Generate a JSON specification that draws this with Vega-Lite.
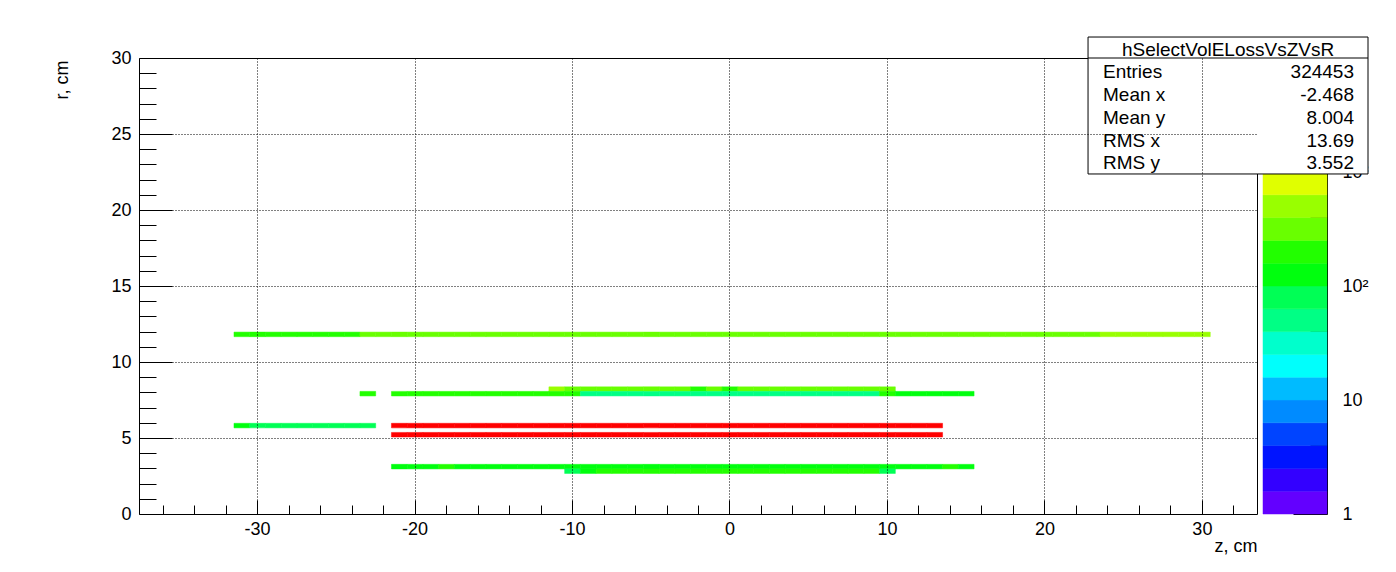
{
"$schema": "https://vega.github.io/schema/vega-lite/v6.json",
"width": 1118, "height": 456,
"autosize": {"type": "none"},
"padding": {"left": 139, "top": 58, "right": 139, "bottom": 58},
"background": "white",
"config": {
  "font": "Liberation Sans",
  "view": {"stroke": "black", "strokeWidth": 1},
  "axis": {"labelFont": "Liberation Sans", "titleFont": "Liberation Sans", "labelColor": "black", "titleColor": "black", "titleFontWeight": "normal", "tickColor": "black", "domainColor": "black", "labelFontSize": 18, "titleFontSize": 18, "tickWidth": 1},
  "text": {"font": "Liberation Sans", "color": "black"}
},
"datasets": {
  "bins": [
    {"z":-31,"r":11.85,"n":205},{"z":-30,"r":11.85,"n":196},{"z":-29,"r":11.85,"n":212},{"z":-28,"r":11.85,"n":189},{"z":-27,"r":11.85,"n":201},{"z":-26,"r":11.85,"n":218},{"z":-25,"r":11.85,"n":193},{"z":-24,"r":11.85,"n":207},
    {"z":-23,"r":11.85,"n":312},{"z":-22,"r":11.85,"n":335},{"z":-21,"r":11.85,"n":348},{"z":-20,"r":11.85,"n":329},{"z":-19,"r":11.85,"n":341},{"z":-18,"r":11.85,"n":356},{"z":-17,"r":11.85,"n":338},{"z":-16,"r":11.85,"n":322},{"z":-15,"r":11.85,"n":347},{"z":-14,"r":11.85,"n":359},{"z":-13,"r":11.85,"n":333},{"z":-12,"r":11.85,"n":318},{"z":-11,"r":11.85,"n":344},{"z":-10,"r":11.85,"n":352},{"z":-9,"r":11.85,"n":327},{"z":-8,"r":11.85,"n":339},{"z":-7,"r":11.85,"n":361},{"z":-6,"r":11.85,"n":345},{"z":-5,"r":11.85,"n":330},{"z":-4,"r":11.85,"n":318},{"z":-3,"r":11.85,"n":342},{"z":-2,"r":11.85,"n":355},{"z":-1,"r":11.85,"n":336},{"z":0,"r":11.85,"n":349},{"z":1,"r":11.85,"n":327},{"z":2,"r":11.85,"n":340},{"z":3,"r":11.85,"n":358},{"z":4,"r":11.85,"n":332},{"z":5,"r":11.85,"n":321},{"z":6,"r":11.85,"n":346},{"z":7,"r":11.85,"n":353},{"z":8,"r":11.85,"n":338},{"z":9,"r":11.85,"n":326},{"z":10,"r":11.85,"n":344},{"z":11,"r":11.85,"n":351},{"z":12,"r":11.85,"n":329},{"z":13,"r":11.85,"n":317},{"z":14,"r":11.85,"n":340},{"z":15,"r":11.85,"n":334},{"z":16,"r":11.85,"n":322},{"z":17,"r":11.85,"n":310},{"z":18,"r":11.85,"n":326},{"z":19,"r":11.85,"n":305},{"z":20,"r":11.85,"n":298},{"z":21,"r":11.85,"n":314},{"z":22,"r":11.85,"n":292},{"z":23,"r":11.85,"n":286},
    {"z":24,"r":11.85,"n":455},{"z":25,"r":11.85,"n":472},{"z":26,"r":11.85,"n":448},{"z":27,"r":11.85,"n":486},{"z":28,"r":11.85,"n":463},{"z":29,"r":11.85,"n":441},{"z":30,"r":11.85,"n":429},
    {"z":-11,"r":8.25,"n":452},{"z":-10,"r":8.25,"n":318},{"z":-9,"r":8.25,"n":335},{"z":-8,"r":8.25,"n":342},{"z":-7,"r":8.25,"n":327},{"z":-6,"r":8.25,"n":351},{"z":-5,"r":8.25,"n":339},{"z":-4,"r":8.25,"n":322},{"z":-3,"r":8.25,"n":309},{"z":-2,"r":8.25,"n":238},{"z":-1,"r":8.25,"n":276},{"z":0,"r":8.25,"n":242},{"z":1,"r":8.25,"n":288},{"z":2,"r":8.25,"n":305},{"z":3,"r":8.25,"n":321},{"z":4,"r":8.25,"n":334},{"z":5,"r":8.25,"n":318},{"z":6,"r":8.25,"n":342},{"z":7,"r":8.25,"n":329},{"z":8,"r":8.25,"n":314},{"z":9,"r":8.25,"n":337},{"z":10,"r":8.25,"n":301},
    {"z":-23,"r":7.95,"n":196},{"z":-21,"r":7.95,"n":188},{"z":-20,"r":7.95,"n":204},{"z":-19,"r":7.95,"n":197},{"z":-18,"r":7.95,"n":211},{"z":-17,"r":7.95,"n":193},{"z":-16,"r":7.95,"n":206},{"z":-15,"r":7.95,"n":199},{"z":-14,"r":7.95,"n":215},{"z":-13,"r":7.95,"n":190},{"z":-12,"r":7.95,"n":203},{"z":-11,"r":7.95,"n":208},{"z":-10,"r":7.95,"n":195},
    {"z":-9,"r":7.95,"n":52},{"z":-8,"r":7.95,"n":48},{"z":-7,"r":7.95,"n":55},{"z":-6,"r":7.95,"n":50},{"z":-5,"r":7.95,"n":46},{"z":-4,"r":7.95,"n":53},{"z":-3,"r":7.95,"n":49},{"z":-2,"r":7.95,"n":57},{"z":-1,"r":7.95,"n":51},{"z":0,"r":7.95,"n":47},{"z":1,"r":7.95,"n":54},{"z":2,"r":7.95,"n":50},{"z":3,"r":7.95,"n":45},{"z":4,"r":7.95,"n":52},{"z":5,"r":7.95,"n":56},{"z":6,"r":7.95,"n":49},{"z":7,"r":7.95,"n":53},{"z":8,"r":7.95,"n":48},{"z":9,"r":7.95,"n":51},
    {"z":10,"r":7.95,"n":236},{"z":11,"r":7.95,"n":148},{"z":12,"r":7.95,"n":152},{"z":13,"r":7.95,"n":145},{"z":14,"r":7.95,"n":150},{"z":15,"r":7.95,"n":141},
    {"z":-31,"r":5.85,"n":130},{"z":-30,"r":5.85,"n":82},{"z":-29,"r":5.85,"n":78},{"z":-28,"r":5.85,"n":85},{"z":-27,"r":5.85,"n":80},{"z":-26,"r":5.85,"n":76},{"z":-25,"r":5.85,"n":83},{"z":-24,"r":5.85,"n":79},{"z":-23,"r":5.85,"n":74},
    {"z":-21,"r":5.85,"n":8420},{"z":-20,"r":5.85,"n":8610},{"z":-19,"r":5.85,"n":8350},{"z":-18,"r":5.85,"n":8790},{"z":-17,"r":5.85,"n":8530},{"z":-16,"r":5.85,"n":8680},{"z":-15,"r":5.85,"n":8240},{"z":-14,"r":5.85,"n":8910},{"z":-13,"r":5.85,"n":8470},{"z":-12,"r":5.85,"n":8720},{"z":-11,"r":5.85,"n":8390},{"z":-10,"r":5.85,"n":8560},{"z":-9,"r":5.85,"n":8830},{"z":-8,"r":5.85,"n":8450},{"z":-7,"r":5.85,"n":8670},{"z":-6,"r":5.85,"n":8290},{"z":-5,"r":5.85,"n":8740},{"z":-4,"r":5.85,"n":8510},{"z":-3,"r":5.85,"n":8620},{"z":-2,"r":5.85,"n":8380},{"z":-1,"r":5.85,"n":8850},{"z":0,"r":5.85,"n":8490},{"z":1,"r":5.85,"n":8700},{"z":2,"r":5.85,"n":8330},{"z":3,"r":5.85,"n":8580},{"z":4,"r":5.85,"n":8760},{"z":5,"r":5.85,"n":8410},{"z":6,"r":5.85,"n":8640},{"z":7,"r":5.85,"n":8520},{"z":8,"r":5.85,"n":8300},{"z":9,"r":5.85,"n":8690},{"z":10,"r":5.85,"n":8460},{"z":11,"r":5.85,"n":8570},{"z":12,"r":5.85,"n":8350},{"z":13,"r":5.85,"n":8230},
    {"z":-21,"r":5.25,"n":9120},{"z":-20,"r":5.25,"n":9350},{"z":-19,"r":5.25,"n":9040},{"z":-18,"r":5.25,"n":9480},{"z":-17,"r":5.25,"n":9210},{"z":-16,"r":5.25,"n":9390},{"z":-15,"r":5.25,"n":8970},{"z":-14,"r":5.25,"n":9560},{"z":-13,"r":5.25,"n":9180},{"z":-12,"r":5.25,"n":9420},{"z":-11,"r":5.25,"n":9090},{"z":-10,"r":5.25,"n":9270},{"z":-9,"r":5.25,"n":9510},{"z":-8,"r":5.25,"n":9150},{"z":-7,"r":5.25,"n":9330},{"z":-6,"r":5.25,"n":9010},{"z":-5,"r":5.25,"n":9440},{"z":-4,"r":5.25,"n":9230},{"z":-3,"r":5.25,"n":9310},{"z":-2,"r":5.25,"n":9060},{"z":-1,"r":5.25,"n":9530},{"z":0,"r":5.25,"n":9190},{"z":1,"r":5.25,"n":9400},{"z":2,"r":5.25,"n":9030},{"z":3,"r":5.25,"n":9260},{"z":4,"r":5.25,"n":9460},{"z":5,"r":5.25,"n":9110},{"z":6,"r":5.25,"n":9340},{"z":7,"r":5.25,"n":9220},{"z":8,"r":5.25,"n":9000},{"z":9,"r":5.25,"n":9370},{"z":10,"r":5.25,"n":9140},{"z":11,"r":5.25,"n":9280},{"z":12,"r":5.25,"n":9050},{"z":13,"r":5.25,"n":8940},
    {"z":-21,"r":3.15,"n":128},{"z":-20,"r":3.15,"n":135},{"z":-19,"r":3.15,"n":122},{"z":-18,"r":3.15,"n":172},{"z":-17,"r":3.15,"n":131},{"z":-16,"r":3.15,"n":126},{"z":-15,"r":3.15,"n":138},{"z":-14,"r":3.15,"n":142},{"z":-13,"r":3.15,"n":129},{"z":-12,"r":3.15,"n":133},{"z":-11,"r":3.15,"n":140},{"z":-10,"r":3.15,"n":136},{"z":-9,"r":3.15,"n":144},{"z":-8,"r":3.15,"n":139},{"z":-7,"r":3.15,"n":147},{"z":-6,"r":3.15,"n":141},{"z":-5,"r":3.15,"n":150},{"z":-4,"r":3.15,"n":143},{"z":-3,"r":3.15,"n":137},{"z":-2,"r":3.15,"n":148},{"z":-1,"r":3.15,"n":145},{"z":0,"r":3.15,"n":152},{"z":1,"r":3.15,"n":146},{"z":2,"r":3.15,"n":139},{"z":3,"r":3.15,"n":149},{"z":4,"r":3.15,"n":143},{"z":5,"r":3.15,"n":138},{"z":6,"r":3.15,"n":151},{"z":7,"r":3.15,"n":144},{"z":8,"r":3.15,"n":136},{"z":9,"r":3.15,"n":147},{"z":10,"r":3.15,"n":140},{"z":11,"r":3.15,"n":133},{"z":12,"r":3.15,"n":137},{"z":13,"r":3.15,"n":129},{"z":14,"r":3.15,"n":168},{"z":15,"r":3.15,"n":131},
    {"z":-10,"r":2.85,"n":82},{"z":-9,"r":2.85,"n":135},{"z":-8,"r":2.85,"n":186},{"z":-7,"r":2.85,"n":194},{"z":-6,"r":2.85,"n":201},{"z":-5,"r":2.85,"n":197},{"z":-4,"r":2.85,"n":208},{"z":-3,"r":2.85,"n":203},{"z":-2,"r":2.85,"n":212},{"z":-1,"r":2.85,"n":206},{"z":0,"r":2.85,"n":215},{"z":1,"r":2.85,"n":209},{"z":2,"r":2.85,"n":200},{"z":3,"r":2.85,"n":211},{"z":4,"r":2.85,"n":198},{"z":5,"r":2.85,"n":205},{"z":6,"r":2.85,"n":193},{"z":7,"r":2.85,"n":202},{"z":8,"r":2.85,"n":189},{"z":9,"r":2.85,"n":184},{"z":10,"r":2.85,"n":85}
  ],
  "palette": [
    {"lo":1,"hi":1.5849},{"lo":1.5849,"hi":2.5119},{"lo":2.5119,"hi":3.9811},{"lo":3.9811,"hi":6.3096},{"lo":6.3096,"hi":10},
    {"lo":10,"hi":15.849},{"lo":15.849,"hi":25.119},{"lo":25.119,"hi":39.811},{"lo":39.811,"hi":63.096},{"lo":63.096,"hi":100},
    {"lo":100,"hi":158.49},{"lo":158.49,"hi":251.19},{"lo":251.19,"hi":398.11},{"lo":398.11,"hi":630.96},{"lo":630.96,"hi":1000},
    {"lo":1000,"hi":1584.9},{"lo":1584.9,"hi":2511.9},{"lo":2511.9,"hi":3981.1},{"lo":3981.1,"hi":6309.6},{"lo":6309.6,"hi":10000}
  ],
  "stats": [
    {"stat":"Entries","value":"324453"},
    {"stat":"Mean x","value":"-2.468"},
    {"stat":"Mean y","value":"8.004"},
    {"stat":"RMS x","value":"13.69"},
    {"stat":"RMS y","value":"3.552"}
  ]
},
"layer": [
  {
    "data": {"name": "palette"},
    "mark": {"type": "rect", "strokeWidth": 0.5},
    "encoding": {
      "x": {"datum": 0, "type": "quantitative", "scale": {"domain": [0, 1], "range": [1124, 1188], "nice": false}, "axis": null},
      "x2": {"datum": 1},
      "y": {"field": "lo", "type": "quantitative", "scale": {"type": "log", "domain": [1, 10000], "nice": false},
        "axis": {"orient": "right", "offset": 70, "title": null, "grid": false, "domain": true,
          "values": [1,2,3,4,5,6,7,8,9,10,20,30,40,50,60,70,80,90,100,200,300,400,500,600,700,800,900,1000,2000,3000,4000,5000,6000,7000,8000,9000],
          "labelExpr": "datum.value == 1 ? '1' : datum.value == 10 ? '10' : datum.value == 100 ? '10²' : datum.value == 1000 ? '10³' : ''",
          "tickSize": {"condition": {"test": "datum.value == 1 || datum.value == 10 || datum.value == 100 || datum.value == 1000", "value": -34}, "value": -17},
          "labelPadding": 49, "labelAlign": "left", "labelBaseline": "middle", "labelOverlap": false, "labelFlush": false, "labelBound": false}},
      "y2": {"field": "hi"},
      "color": {"field": "lo", "type": "quantitative",
        "scale": {"type": "threshold",
          "domain": [1.5849, 2.5119, 3.9811, 6.3096, 10, 15.849, 25.119, 39.811, 63.096, 100, 158.49, 251.19, 398.11, 630.96, 1000, 1584.9, 2511.9, 3981.1, 6309.6],
          "range": ["#6300ff","#3300ff","#0014ff","#0044ff","#008bff","#00bbff","#00fffc","#00ffcc","#00ff85","#00ff55","#00ff0e","#22ff00","#69ff00","#99ff00","#e0ff00","#ffee00","#ffa700","#ff7700","#ff3000","#ff0000"]},
        "legend": null},
      "stroke": {"field": "lo", "type": "quantitative",
        "scale": {"type": "threshold",
          "domain": [1.5849, 2.5119, 3.9811, 6.3096, 10, 15.849, 25.119, 39.811, 63.096, 100, 158.49, 251.19, 398.11, 630.96, 1000, 1584.9, 2511.9, 3981.1, 6309.6],
          "range": ["#6300ff","#3300ff","#0014ff","#0044ff","#008bff","#00bbff","#00fffc","#00ffcc","#00ff85","#00ff55","#00ff0e","#22ff00","#69ff00","#99ff00","#e0ff00","#ffee00","#ffa700","#ff7700","#ff3000","#ff0000"]},
        "legend": null}
    }
  },
  {
    "layer": [
      {
        "data": {"name": "bins"},
        "mark": {"type": "rect", "binSpacing": 0, "strokeWidth": 0.5},
        "encoding": {
          "x": {"field": "z", "type": "quantitative", "bin": {"extent": [-37.5, 33.5], "step": 1, "nice": false},
            "scale": {"domain": [-37.5, 33.5], "nice": false, "zero": false},
            "axis": {"orient": "bottom", "domain": false,
              "values": [-36,-34,-32,-30,-28,-26,-24,-22,-20,-18,-16,-14,-12,-10,-8,-6,-4,-2,0,2,4,6,8,10,12,14,16,18,20,22,24,26,28,30,32],
              "labelExpr": "datum.value % 10 === 0 ? '' + datum.value : ''",
              "tickSize": {"condition": {"test": "datum.value % 10 === 0", "value": -14}, "value": -9},
              "labelPadding": 20, "labelOverlap": false, "labelFlush": false,
              "grid": true, "gridColor": "black", "gridDash": [1, 2], "gridWidth": 1,
              "gridOpacity": {"condition": {"test": "datum.value % 10 === 0", "value": 1}, "value": 0},
              "title": "z, cm", "titleAnchor": "end", "titleAlign": "right", "titleX": 1118, "titleY": 37, "titleBaseline": "alphabetic"}},
          "y": {"field": "r", "type": "quantitative", "bin": {"extent": [0, 30], "step": 0.3, "nice": false},
            "scale": {"domain": [0, 30], "nice": false},
            "axis": {"orient": "left", "domain": false,
              "values": [0,1,2,3,4,5,6,7,8,9,10,11,12,13,14,15,16,17,18,19,20,21,22,23,24,25,26,27,28,29,30],
              "labelExpr": "datum.value % 5 === 0 ? '' + datum.value : ''",
              "tickSize": {"condition": {"test": "datum.value % 5 === 0", "value": -33}, "value": -17},
              "labelPadding": 41, "labelOverlap": false, "labelFlush": false,
              "grid": true, "gridColor": "black", "gridDash": [1, 2], "gridWidth": 1,
              "gridOpacity": {"condition": {"test": "datum.value % 5 === 0 && datum.value > 0 && datum.value < 30", "value": 1}, "value": 0},
              "title": "r, cm", "titleAngle": 270, "titleAlign": "right", "titleX": -72, "titleY": 2, "titleBaseline": "alphabetic"}},
          "color": {"aggregate": "sum", "field": "n", "type": "quantitative",
            "scale": {"type": "threshold",
              "domain": [1.5849, 2.5119, 3.9811, 6.3096, 10, 15.849, 25.119, 39.811, 63.096, 100, 158.49, 251.19, 398.11, 630.96, 1000, 1584.9, 2511.9, 3981.1, 6309.6],
              "range": ["#6300ff","#3300ff","#0014ff","#0044ff","#008bff","#00bbff","#00fffc","#00ffcc","#00ff85","#00ff55","#00ff0e","#22ff00","#69ff00","#99ff00","#e0ff00","#ffee00","#ffa700","#ff7700","#ff3000","#ff0000"]},
            "legend": null},
          "stroke": {"aggregate": "sum", "field": "n", "type": "quantitative",
            "scale": {"type": "threshold",
              "domain": [1.5849, 2.5119, 3.9811, 6.3096, 10, 15.849, 25.119, 39.811, 63.096, 100, 158.49, 251.19, 398.11, 630.96, 1000, 1584.9, 2511.9, 3981.1, 6309.6],
              "range": ["#6300ff","#3300ff","#0014ff","#0044ff","#008bff","#00bbff","#00fffc","#00ffcc","#00ff85","#00ff55","#00ff0e","#22ff00","#69ff00","#99ff00","#e0ff00","#ffee00","#ffa700","#ff7700","#ff3000","#ff0000"]},
            "legend": null}
        }
      },
      {
        "data": {"values": [{}]},
        "mark": {"type": "rect", "fill": "white", "stroke": "black", "strokeWidth": 1},
        "encoding": {"x": {"datum": 22.77}, "x2": {"datum": 40.55}, "y": {"datum": 31.38}, "y2": {"datum": 22.37}}
      },
      {
        "data": {"values": [{}]},
        "mark": {"type": "rule", "color": "black", "strokeWidth": 1},
        "encoding": {"x": {"datum": 22.77}, "x2": {"datum": 40.55}, "y": {"datum": 30}}
      },
      {
        "data": {"values": [{}]},
        "mark": {"type": "text", "align": "center", "baseline": "alphabetic", "fontSize": 19, "font": "Liberation Sans", "color": "black"},
        "encoding": {"x": {"datum": 31.66}, "y": {"datum": 30.13}, "text": {"value": "hSelectVolELossVsZVsR"}}
      }
    ]
  },
  {
    "data": {"name": "stats"},
    "layer": [
      {
        "mark": {"type": "text", "align": "left", "baseline": "alphabetic", "fontSize": 19, "font": "Liberation Sans", "color": "black"},
        "encoding": {
          "x": {"datum": 0, "type": "quantitative", "scale": {"domain": [0, 1], "range": [964, 1215], "nice": false}, "axis": null},
          "y": {"field": "stat", "type": "nominal", "scale": {"type": "point", "domain": ["Entries", "Mean x", "Mean y", "RMS x", "RMS y"], "range": [20.3, 111.3], "padding": 0}, "axis": null},
          "text": {"field": "stat"}
        }
      },
      {
        "mark": {"type": "text", "align": "right", "baseline": "alphabetic", "fontSize": 19, "font": "Liberation Sans", "color": "black"},
        "encoding": {
          "x": {"datum": 1, "type": "quantitative"},
          "y": {"field": "stat", "type": "nominal"},
          "text": {"field": "value"}
        }
      }
    ]
  }
],
"resolve": {"scale": {"x": "independent", "y": "independent"}}
}
